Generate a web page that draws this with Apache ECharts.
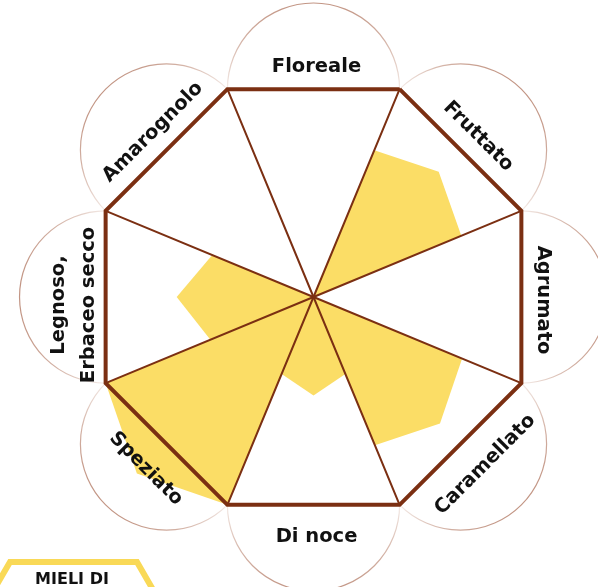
<!DOCTYPE html>
<html>
<head>
<meta charset="utf-8">
<script src="https://cdn.jsdelivr.net/npm/echarts@6/dist/echarts.min.js"></script>
<style>
  html, body { margin: 0; padding: 0; background: #fff; }
  #chart { width: 598px; height: 587px; }
</style>
</head>
<body>
<div id="chart"></div>
<script>
// categorie in senso orario, partendo dall'alto
var categories = ['Floreale', 'Fruttato', 'Agrumato', 'Caramellato', 'Di noce', 'Speziato', 'Legnoso,\nErbaceo secco', 'Amarognolo'];
// valore al centro dello spicchio (punta) e sui due raggi che lo delimitano
var peakValues = [0, 78.7, 0, 79.5, 43.8, 111, 60.8, 0];
var sideCW = [0, 71.1, 0, 71.3, 37, 100, 48.7, 0];
var sideCCW = [0, 70.6, 0, 71.5, 37, 100, 49.6, 0];
var frameMax = 100;
var badgeText = 'MIELI DI';

var BROWN = '#7b2f12';
var YELLOW = '#fbdd66';
var cx = 313.5, cy = 297;
var R = 225;              // raggio ai vertici dell'ottagono
var dataMax = 120;        // scala del radar dei dati (oltre il bordo)
var labelRadius = 235;
var FONT = '"DejaVu Sans", sans-serif';

function mod16(i) { return ((i % 16) + 16) % 16; }

// radar a 16 assi: raggi pari = spigoli, dispari = centro dello spicchio
var sectorData = categories.map(function (name, k) {
    var v = [];
    for (var i = 0; i < 16; i++) v.push(0);
    v[mod16(1 - 2 * k)] = peakValues[k];
    v[mod16(-2 * k)] = sideCW[k];
    v[mod16(2 - 2 * k)] = sideCCW[k];
    return { name: name, value: v };
});

var frameIndicators = [];
for (var i = 0; i < 8; i++) frameIndicators.push({ name: '', min: 0, max: frameMax });
var dataIndicators = [];
for (var i = 0; i < 16; i++) dataIndicators.push({ name: '', min: 0, max: dataMax });

// cerchi e etichette sui lati
var apothem = R * Math.cos(Math.PI / 8);
var halfSide = R * Math.sin(Math.PI / 8);
var graphics = [];
categories.forEach(function (name, k) {
    var th = (90 - 45 * k) * Math.PI / 180;
    var mx = cx + apothem * Math.cos(th), my = cy - apothem * Math.sin(th);
    graphics.push({
        type: 'arc',
        z: 1,
        silent: true,
        shape: { cx: mx, cy: my, r: halfSide, startAngle: -th - Math.PI / 2, endAngle: -th + Math.PI / 2, clockwise: true },
        style: {
            fill: null,
            lineWidth: 1.2,
            stroke: {
                type: 'linear', global: true,
                x: mx, y: my, x2: mx + halfSide * Math.cos(th), y2: my - halfSide * Math.sin(th),
                colorStops: [{ offset: 0, color: '#f4ebe7' }, { offset: 0.6, color: '#d2b0a3' }, { offset: 1, color: '#c29584' }]
            }
        }
    });
    var rot = 90 - 45 * k - 90;
    while (rot > 180) rot -= 360;
    while (rot <= -180) rot += 360;
    if (rot > 90) rot -= 180;
    if (rot < -90) rot += 180;
    var multi = name.indexOf('\n') >= 0;
    graphics.push({
        type: 'text',
        z: 10,
        silent: true,
        x: cx + labelRadius * Math.cos(th),
        y: cy - labelRadius * Math.sin(th),
        rotation: rot * Math.PI / 180,
        style: {
            text: name,
            x: multi ? -8 : 3,
            y: multi ? -5 : 5,
            font: 'bold 19.5px ' + FONT,
            fill: '#111',
            align: 'center',
            verticalAlign: 'middle',
            lineHeight: 30
        }
    });
});

// esagono in basso a sinistra
var hx = 73.5, hy = 672, hs = 127, hexPts = [];
for (var j = 0; j < 6; j++) {
    var a = j * Math.PI / 3;
    hexPts.push([hx + hs * Math.cos(a), hy + hs * Math.sin(a)]);
}
graphics.push({
    type: 'polygon', z: 10, silent: true,
    shape: { points: hexPts },
    style: { fill: null, stroke: '#f9d957', lineWidth: 6, lineJoin: 'miter' }
});
graphics.push({
    type: 'text', z: 10, silent: true,
    x: 72, y: 580,
    style: { text: badgeText, font: 'bold 16px ' + FONT, fill: '#111', align: 'center', verticalAlign: 'middle' }
});

var chart = echarts.init(document.getElementById('chart'));
chart.setOption({
    backgroundColor: '#fff',
    animation: false,
    radar: [
        {
            z: 3,
            center: [cx, cy],
            radius: R,
            startAngle: 67.5,
            splitNumber: 1,
            shape: 'polygon',
            indicator: frameIndicators,
            axisName: { show: false },
            axisLine: { lineStyle: { color: BROWN, width: 2 } },
            splitLine: { lineStyle: { color: BROWN, width: 4 } },
            splitArea: { show: false },
            axisTick: { show: false },
            axisLabel: { show: false }
        },
        {
            z: 2,
            center: [cx, cy],
            radius: R * dataMax / frameMax,
            startAngle: 67.5,
            splitNumber: 1,
            shape: 'polygon',
            indicator: dataIndicators,
            axisName: { show: false },
            axisLine: { show: false },
            splitLine: { show: false },
            splitArea: { show: false }
        }
    ],
    series: [{
        type: 'radar',
        radarIndex: 1,
        z: 2,
        silent: true,
        symbol: 'none',
        lineStyle: { width: 0 },
        areaStyle: { color: YELLOW, opacity: 1 },
        data: sectorData
    }],
    graphic: { elements: graphics }
});
</script>
</body>
</html>
